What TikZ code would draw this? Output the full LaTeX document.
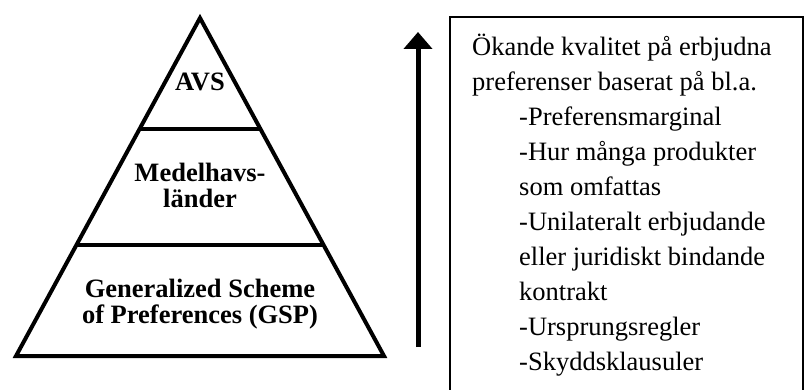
\documentclass[tikz,border=0pt]{standalone}
\usepackage{fontspec}
\setmainfont{Liberation Serif}
\usetikzlibrary{arrows.meta,calc}

\begin{document}
\begin{tikzpicture}[x=1pt,y=1pt,
 lvl/.style={align=center,font=\bfseries\fontsize{26.5}{26}\selectfont,inner sep=0pt,anchor=base},
 wall/.style={line width=4pt},
 note/.style={align=left,font=\fontsize{26.5}{35}\selectfont,inner sep=0pt,anchor=base west}]
\useasboundingbox (0,0) rectangle (804,389);
\clip (0,0) rectangle (804,389);
\coordinate (top) at (200,371);\coordinate (bl) at (16,33);\coordinate (br) at (384,33);
\draw[wall] (top)--(bl)--(br)--cycle;
\draw[wall] ($(top)!.328!(bl)$)--($(top)!.328!(br)$);
\draw[wall] ($(top)!.672!(bl)$)--($(top)!.672!(br)$);
\node[lvl] (avs) at (200,298) {AVS};
\node[lvl] (medel) at (200,182) {Medelhavs-\\länder};
\node[lvl] (gsp) at (200,66) {Generalized Scheme\\of Preferences (GSP)};
\coordinate (low) at (418,42);\coordinate (high) at (418,357);
\draw[-{Triangle[width=28pt,length=17pt]},line width=5pt] (low)--(high);
\draw[line width=2pt] (450,-20) rectangle (803,372);
\node[note] (kval) at (472,19) {Ökande kvalitet på erbjudna\\preferenser baserat på bl.a.\\
 \hspace*{47pt}-Preferensmarginal\\\hspace*{47pt}-Hur många produkter\\\hspace*{47pt}som omfattas\\
 \hspace*{47pt}-Unilateralt erbjudande\\\hspace*{47pt}eller juridiskt bindande\\\hspace*{47pt}kontrakt\\
 \hspace*{47pt}-Ursprungsregler\\\hspace*{47pt}-Skyddsklausuler};
\end{tikzpicture}
\end{document}
